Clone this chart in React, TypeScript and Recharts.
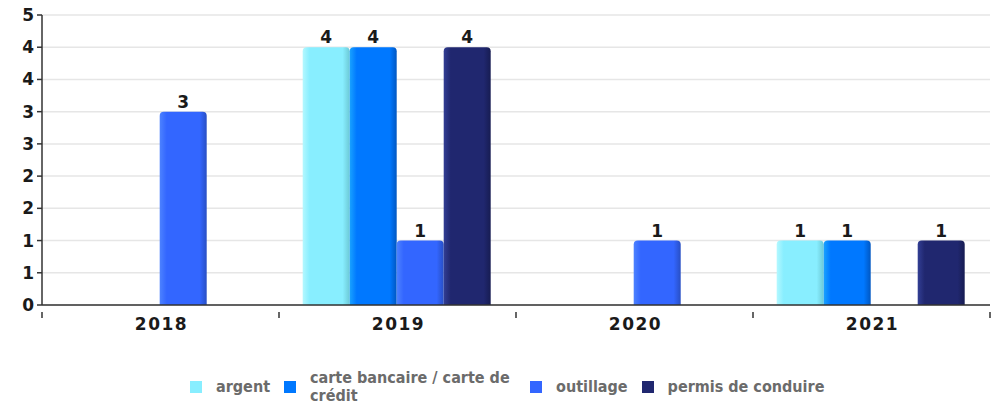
import React from "react"
import { BarChart, Bar, XAxis, YAxis, CartesianGrid, LabelList } from "recharts"

const years = ["2018", "2019", "2020", "2021"]
const argent = [null, 4, null, 1]
const carte = [null, 4, null, 1]
const outillage = [3, 1, 1, null]
const permis = [null, 4, null, 1]
const yTicks = [0, 0.5, 1, 1.5, 2, 2.5, 3, 3.5, 4, 4.5]

const series = [
  { key: "argent", name: "argent", color: "#88EEFF", light: "#B4F8FF", dark: "#6CC9D6" },
  { key: "carte", name: "carte bancaire / carte de crédit", color: "#0078FF", light: "#19A2FF", dark: "#0057C2" },
  { key: "outillage", name: "outillage", color: "#3366FF", light: "#4D82FF", dark: "#284FC4" },
  { key: "permis", name: "permis de conduire", color: "#20276F", light: "#323E94", dark: "#171C52" },
]

const data = years.map((y, i) => ({
  year: y,
  argent: argent[i],
  carte: carte[i],
  outillage: outillage[i],
  permis: permis[i],
}))

const axisFont = { fontFamily: "DejaVu Sans", fontWeight: 700, fontSize: 17, fill: "#1a1a1a" }

function XTick(props: any) {
  const { x, y, payload, index, visibleTicksCount } = props
  const half = payload.offset || 118.5
  return (
    <g>
      <line x1={x - half} y1={y - 1} x2={x - half} y2={y + 5} stroke="#333" strokeWidth={1.5} />
      {index === visibleTicksCount - 1 && (
        <line x1={x + half} y1={y - 1} x2={x + half} y2={y + 5} stroke="#333" strokeWidth={1.5} />
      )}
      <text x={x + 1} y={y + 17} textAnchor="middle" style={{ ...axisFont, letterSpacing: 1.5 } as any}>
        {payload.value}
      </text>
    </g>
  )
}

function ValueLabel(props: any) {
  const { x, y, width, value } = props
  if (value == null || value === 0) return null
  return (
    <text x={x + width / 2} y={y - 4} textAnchor="middle" style={axisFont as any}>{value}</text>
  )
}

export default function App() {
  return (
    <div style={{ position: "relative", width: 994, height: 406, background: "#fff" }}>
      <style>{"body{margin:0}"}</style>
      <BarChart
        width={994}
        height={406}
        data={data}
        margin={{ top: 15, right: 4, left: 0, bottom: 71 }}
        barCategoryGap="10%"
        barGap={0}
      >
        <defs>
          {series.map(s => (
            <linearGradient key={s.key} id={"g-" + s.key} x1="0" y1="0" x2="1" y2="0">
              <stop offset="0%" stopColor={s.light} />
              <stop offset="15%" stopColor={s.color} />
              <stop offset="85%" stopColor={s.color} />
              <stop offset="100%" stopColor={s.dark} />
            </linearGradient>
          ))}
        </defs>
        <CartesianGrid vertical={false} stroke="#e6e6e6" strokeWidth={1.5} />
        <XAxis
          dataKey="year"
          height={30}
          tickLine={false}
          axisLine={{ stroke: "#333", strokeWidth: 1.5 }}
          tick={<XTick />}
          interval={0}
        />
        <YAxis
          type="number"
          domain={[0, 4.5]}
          ticks={yTicks}
          width={42}
          tickSize={5}
          tickMargin={3}
          tickFormatter={(v: number) => String(Math.round(v))}
          axisLine={{ stroke: "#333", strokeWidth: 1.5 }}
          tickLine={{ stroke: "#333", strokeWidth: 1.5 }}
          tick={axisFont}
          interval={0}
        />
        {series.map(s => (
          <Bar
            key={s.key}
            dataKey={s.key}
            name={s.name}
            fill={`url(#g-${s.key})`}
            radius={[4, 4, 0, 0]}
            isAnimationActive={false}
          >
            <LabelList dataKey={s.key} content={<ValueLabel />} />
          </Bar>
        ))}
      </BarChart>
      <div
        style={{
          position: "absolute",
          top: 369,
          left: 190,
          display: "flex",
          alignItems: "center",
          fontFamily: "DejaVu Sans Condensed, DejaVu Sans",
          fontWeight: 700,
          fontSize: 16,
          lineHeight: "18px",
          color: "#6b6b6b",
        }}
      >
        {series.map(s => (
          <div key={s.key} style={{ display: "flex", alignItems: "center", marginRight: 14 }}>
            <span style={{ width: 12, height: 12, flex: "none", background: s.color, display: "inline-block", marginRight: 14 }} />
            <span style={{ maxWidth: 206 }}>{s.name}</span>
          </div>
        ))}
      </div>
    </div>
  )
}
